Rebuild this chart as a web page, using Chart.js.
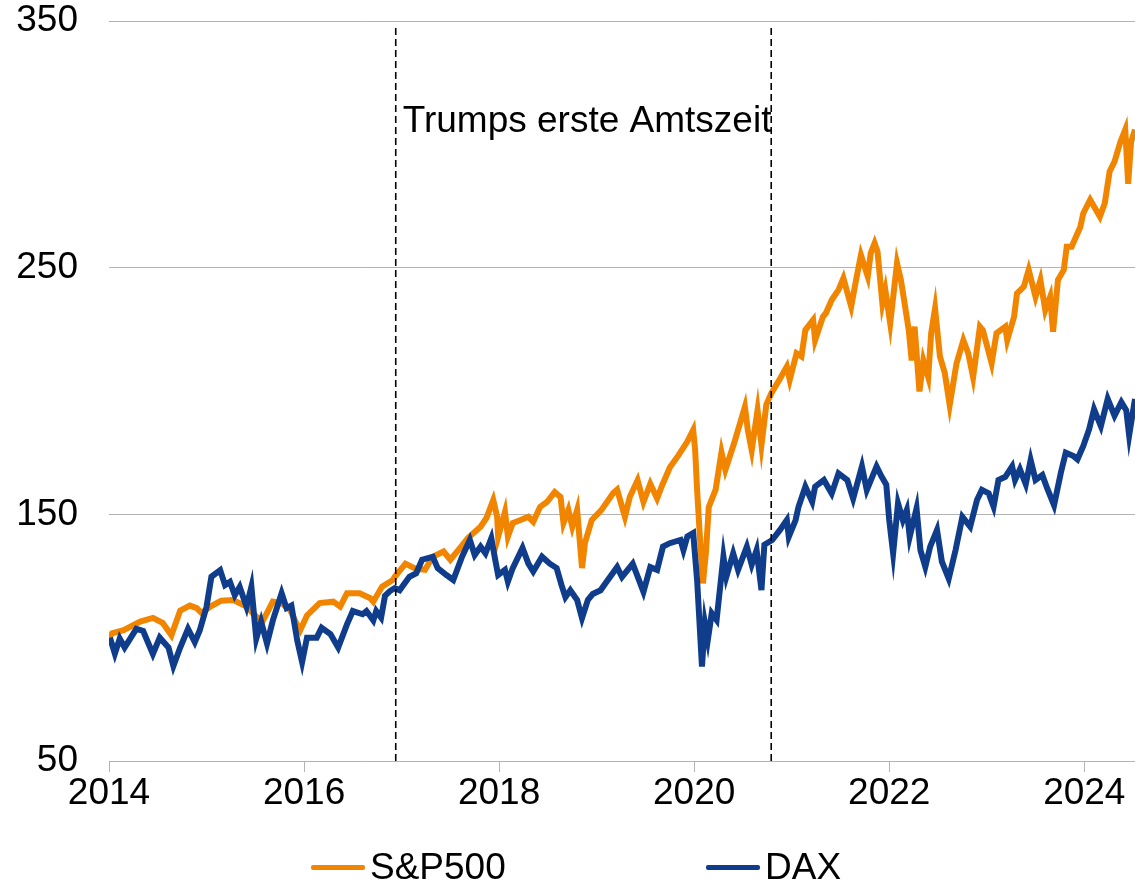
<!DOCTYPE html>
<html>
<head>
<meta charset="utf-8">
<script src="https://cdn.jsdelivr.net/npm/chart.js@4"></script>
<style>
  body { margin: 0; background: #fff; }
  #wrap { position: relative; width: 1135px; height: 887px; }
  .legend { position: absolute; top: 845px; font: 37px "Liberation Sans", Arial, sans-serif; color: #000; display: flex; align-items: center; line-height: 44px; }
  .legend span.line { display: inline-block; width: 54px; height: 5px; border-radius: 2px; margin-right: 5px; }
</style>
</head>
<body>
<div id="wrap">
  <canvas id="chart" width="1135" height="887"></canvas>
  <div class="legend" style="left:311px"><span class="line" style="background:#f28500"></span>S&amp;P500</div>
  <div class="legend" style="left:706px"><span class="line" style="background:#0f3d8b"></span>DAX</div>
</div>
<script>
// S&P500 (indexiert, 2014 = 100)
const spDates = [2014.00, 2014.03, 2014.15, 2014.32, 2014.45, 2014.55, 2014.64, 2014.73, 2014.83, 2014.90, 2014.95,
  2015.04, 2015.15, 2015.27, 2015.41, 2015.51, 2015.58, 2015.68, 2015.77, 2015.86, 2015.93, 2015.96,
  2016.03, 2016.16, 2016.30, 2016.37, 2016.44, 2016.57, 2016.68, 2016.71, 2016.80, 2016.91, 2016.93,
  2017.04, 2017.14, 2017.24, 2017.32, 2017.43, 2017.50, 2017.60, 2017.68, 2017.81, 2017.87, 2017.94, 2017.98, 2017.99,
  2018.06, 2018.09, 2018.14, 2018.22, 2018.30, 2018.35, 2018.42, 2018.49, 2018.57, 2018.63, 2018.66, 2018.71, 2018.75, 2018.80, 2018.85, 2018.88, 2018.95,
  2019.05, 2019.17, 2019.21, 2019.29, 2019.34, 2019.42, 2019.48, 2019.55, 2019.62, 2019.67, 2019.75, 2019.84, 2019.93, 2019.99,
  2020.01, 2020.03, 2020.06, 2020.09, 2020.12, 2020.15, 2020.22, 2020.28, 2020.32, 2020.41, 2020.52, 2020.55, 2020.59, 2020.65, 2020.69, 2020.74, 2020.79, 2020.88, 2020.95, 2020.98,
  2021.05, 2021.10, 2021.14, 2021.22, 2021.24, 2021.32, 2021.35, 2021.41, 2021.48, 2021.53, 2021.61, 2021.66, 2021.71, 2021.78, 2021.81, 2021.85, 2021.88, 2021.93, 2021.96,
  2022.01, 2022.08, 2022.12, 2022.16, 2022.20, 2022.23, 2022.26, 2022.31, 2022.35, 2022.40, 2022.43, 2022.47, 2022.52, 2022.57, 2022.62, 2022.69, 2022.76, 2022.81, 2022.86, 2022.93, 2022.96,
  2023.05, 2023.10, 2023.19, 2023.21, 2023.28, 2023.31, 2023.38, 2023.43, 2023.50, 2023.55, 2023.60, 2023.65, 2023.68, 2023.73, 2023.79, 2023.82, 2023.87, 2023.96, 2023.99,
  2024.06, 2024.16, 2024.21, 2024.26, 2024.31, 2024.37, 2024.42, 2024.45, 2024.48, 2024.52];
const spValues = [100, 101.7, 103, 106.5, 108, 106, 101, 111, 113, 112, 110,
  112.6, 115, 115.3, 112.6, 108.5, 107, 114.6, 114, 111, 105, 103,
  109, 114, 114.6, 112.6, 118, 118, 116, 114.6, 120.7, 123.4, 124.7,
  130, 128, 127.5, 132.8, 134.9, 131.6, 136.4, 140.4, 145, 148.5, 155.8, 149, 140.9,
  151, 141, 146.5, 147.7, 149, 147, 153, 155, 159, 157, 146.5, 151.8, 145, 151.8, 128.2, 138.4, 147.7,
  151.8, 158.6, 160, 149, 157, 163.8, 155, 162.4, 156.4, 161.6, 169, 174, 179.5, 184.2,
  176, 160, 140, 122, 134.3, 153, 160, 175.2, 168, 178.9, 193.6, 184.2, 176, 192.3, 178.1, 194.5, 199, 205, 209.9, 204.5,
  215.3, 214, 224.7, 228.8, 220.6, 230.1, 231.5, 236.9, 241, 245.7, 234.2, 245, 255.1, 246.4, 255.8, 259.9, 256.5, 235.5, 241,
  227.4, 251.8, 245, 235, 224.7, 212.4, 226.1, 199.8, 212.4, 205.6, 223.4, 233.5, 214, 207.2, 194.3, 211.2, 220.6, 215.3, 205.6, 226.1, 224.7,
  211.2, 223.4, 226.1, 220.6, 230.1, 239.6, 242.3, 249.1, 238.2, 245, 232.8, 238.2, 224, 245, 249.1, 258.5, 258.5, 266.6, 272.1,
  277.5, 270.7, 276.1, 289, 293, 301, 306, 284, 301, 306];

// DAX (indexiert, 2014 = 100)
const daxDates = [2014.01, 2014.06, 2014.11, 2014.16, 2014.28, 2014.35, 2014.45, 2014.52, 2014.61, 2014.66, 2014.73, 2014.81, 2014.88, 2014.93,
  2015.00, 2015.05, 2015.14, 2015.19, 2015.24, 2015.29, 2015.34, 2015.41, 2015.46, 2015.51, 2015.56, 2015.62, 2015.68, 2015.77, 2015.82, 2015.87, 2015.93, 2015.98,
  2016.03, 2016.13, 2016.18, 2016.27, 2016.35, 2016.44, 2016.50, 2016.60, 2016.64, 2016.71, 2016.74, 2016.79, 2016.83, 2016.88, 2016.93, 2016.98,
  2017.08, 2017.15, 2017.21, 2017.32, 2017.37, 2017.46, 2017.53, 2017.62, 2017.70, 2017.75, 2017.81, 2017.86, 2017.92, 2017.96, 2017.99,
  2018.06, 2018.09, 2018.14, 2018.24, 2018.30, 2018.35, 2018.44, 2018.52, 2018.59, 2018.64, 2018.68, 2018.73, 2018.80, 2018.85, 2018.91, 2018.96,
  2019.04, 2019.10, 2019.21, 2019.26, 2019.37, 2019.48, 2019.55, 2019.62, 2019.68, 2019.75, 2019.86, 2019.89, 2019.93, 2019.99,
  2020.03, 2020.08, 2020.11, 2020.14, 2020.18, 2020.23, 2020.30, 2020.33, 2020.40, 2020.45, 2020.54, 2020.59, 2020.64, 2020.69, 2020.72, 2020.80, 2020.88, 2020.95, 2020.97,
  2021.04, 2021.07, 2021.14, 2021.21, 2021.24, 2021.33, 2021.41, 2021.48, 2021.57, 2021.63, 2021.72, 2021.77, 2021.87, 2021.92, 2021.97,
  2022.00, 2022.04, 2022.09, 2022.14, 2022.18, 2022.21, 2022.28, 2022.32, 2022.37, 2022.42, 2022.49, 2022.54, 2022.61, 2022.68, 2022.75, 2022.83, 2022.90, 2022.95,
  2023.02, 2023.07, 2023.12, 2023.19, 2023.26, 2023.29, 2023.34, 2023.40, 2023.45, 2023.50, 2023.57, 2023.62, 2023.69, 2023.76, 2023.81, 2023.89, 2023.93, 2023.99,
  2024.05, 2024.10, 2024.17, 2024.24, 2024.31, 2024.38, 2024.43, 2024.46, 2024.52];
const daxValues = [100, 93.5, 99.6, 96, 103.6, 102.7, 93.4, 100, 96, 88.5, 96, 103.6, 98.2, 102.9,
  112.5, 124.7, 127.4, 121.3, 122.6, 117.2, 120.6, 112.5, 120.6, 99.6, 106.5, 97.6, 107, 118, 112, 113, 98.9, 90.1,
  100, 100, 104, 101.5, 96, 105.4, 110.8, 109.5, 110.8, 107, 110.8, 108.1, 117, 118.9, 120.1, 119.2,
  124.7, 126.1, 131.6, 132.8, 128.2, 125.4, 123.4, 132.8, 139.6, 133.5, 136.9, 134.2, 140.3, 131.6, 125.4,
  127.5, 122.7, 128.2, 136.4, 130, 126.8, 132.8, 130, 128.2, 121.3, 116.4, 119.2, 115.3, 107.9, 115.3, 117.7,
  119.2, 122.6, 128.6, 124.6, 130, 118.6, 128.6, 127.5, 136.9, 138.3, 139.6, 135.5, 141, 142.4,
  123.4, 88.3, 105.9, 99.1, 109.9, 107.2, 132.8, 124.7, 134.2, 127.5, 136.9, 129.6, 135.5, 119.3, 137.7, 139.6, 143.7, 147.7, 140.9,
  147.7, 153.1, 161.2, 155.1, 161.2, 163.9, 158.4, 166.6, 163.9, 156.4, 169.4, 159.8, 169.4, 165.4, 162,
  147.7, 134.2, 154.5, 147.7, 151.8, 140.9, 152.4, 135.5, 128.7, 136.9, 143.7, 130.8, 123.9, 135.5, 149, 145, 155.8, 159.9,
  158.5, 153.1, 163.9, 165.2, 169.4, 163.9, 168.3, 162.2, 172, 163.9, 165.9, 160.5, 153.7, 166.9, 175, 173.6, 172.3, 177.7,
  184.5, 192.6, 185.8, 196.8, 190, 195.5, 192.2, 182, 196.8];

// Trumps erste Amtszeit
const termStart = 2016.94;
const termEnd = 2020.79;
const termLabel = 'Trumps erste Amtszeit';

const xTicks = [2014, 2016, 2018, 2020, 2022, 2024];
const yTicks = [50, 150, 250, 350];
const xMin = 2014, xMax = 2024.52;

const FONT = '"Liberation Sans", Arial, sans-serif';
const GRID = '#b3b3b3';

function pts(xs, ys) {
  return xs.map((x, i) => ({ x: x, y: ys[i] }));
}

const termText = {
  id: 'termText',
  afterDatasetsDraw(chart) {
    const ctx = chart.ctx;
    const x = chart.scales.x.getPixelForValue(termStart) + 7;
    const y = chart.scales.y.getPixelForValue(305);
    ctx.save();
    ctx.font = '37px ' + FONT;
    ctx.fillStyle = '#000';
    ctx.textBaseline = 'alphabetic';
    ctx.fillText(termLabel, x, y);
    ctx.restore();
  }
};

new Chart(document.getElementById('chart'), {
  type: 'line',
  data: {
    datasets: [
      { label: 'Start', data: pts([termStart, termStart], [50, 348]), borderColor: '#000', borderWidth: 1.6, borderDash: [7, 4], pointRadius: 0 },
      { label: 'Ende', data: pts([termEnd, termEnd], [50, 348]), borderColor: '#000', borderWidth: 1.6, borderDash: [7, 4], pointRadius: 0 },
      { label: 'DAX', data: pts(daxDates, daxValues), borderColor: '#0f3d8b', borderWidth: 6, pointRadius: 0, tension: 0 },
      { label: 'S&P500', data: pts(spDates, spValues), borderColor: '#f28500', borderWidth: 6, pointRadius: 0, tension: 0 }
    ]
  },
  options: {
    responsive: false,
    animation: false,
    layout: { padding: { top: 21, right: 0, left: 0, bottom: 0 } },
    plugins: { legend: { display: false }, tooltip: { enabled: false } },
    scales: {
      x: {
        type: 'linear', min: xMin, max: xMax,
        afterBuildTicks: s => { s.ticks = xTicks.map(v => ({ value: v })); },
        afterFit: s => { s.height = 126; s.paddingLeft = 0; s.paddingRight = 0; },
        ticks: { color: '#000', font: { family: FONT, size: 37 }, padding: 0, maxRotation: 0, autoSkip: false, callback: v => String(v) },
        grid: { drawOnChartArea: false, drawTicks: true, tickLength: 11, color: GRID },
        border: { display: true, color: GRID, width: 1 }
      },
      y: {
        min: 50, max: 350,
        afterBuildTicks: s => { s.ticks = yTicks.map(v => ({ value: v })); },
        afterFit: s => { s.width = 109; s.paddingTop = 0; s.paddingBottom = 0; },
        ticks: { color: '#000', font: { family: FONT, size: 37 }, padding: 31 },
        grid: { color: GRID, drawTicks: false },
        border: { display: false }
      }
    }
  },
  plugins: [termText]
});
</script>
</body>
</html>
